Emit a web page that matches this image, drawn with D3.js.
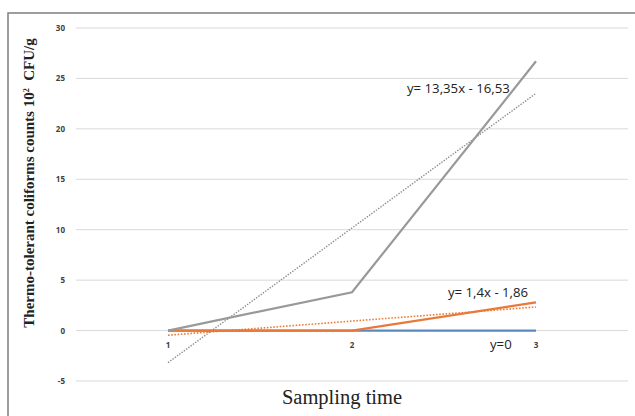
<!DOCTYPE html>
<html>
<head>
<meta charset="utf-8">
<script src="https://cdn.jsdelivr.net/npm/d3@7"></script>
<style>
  body { margin: 0; background: #fff; }
  svg { display: block; }
</style>
</head>
<body>
<svg id="chart" width="635" height="416"></svg>
<script>
// sampling times (categories)
const categories = ["1", "2", "3"];
// series values (10^2 CFU/g)
const blueValues = [0, 0, 0];
const orangeValues = [0, 0, 2.8];
const grayValues = [0, 3.8, 26.7];
// y tick values
const yTicks = [-5, 0, 5, 10, 15, 20, 25, 30];
// trend line equations (slope, intercept) and their labels
const grayTrend = [13.35, -16.53];
const orangeTrend = [1.4, -1.86];
const trendLabels = ["y= 13,35x - 16,53", "y= 1,4x - 1,86", "y=0"];

const svg = d3.select('#chart');

// outer frame (right and bottom edges cropped in the picture)
svg.append("rect")
	.attr("x", 8).attr("y", 13)
	.attr("width", 640).attr("height", 420)
	.attr("fill", "none")
	.attr("stroke", "#7f7f7f")
	.attr("stroke-width", 1.5);

const left = 76, right = 628;
const x = d3.scaleBand().domain(categories).range([left, right]);
const y = d3.scaleLinear().domain([-5, 30]).range([381, 28]);
const cx = c => x(c) + x.bandwidth() / 2;

// grid lines
yTicks.forEach(t =>
	svg.append("line")
		.attr("x1", left).attr("x2", right)
		.attr("y1", y(t)).attr("y2", y(t))
		.attr("stroke", "#d9d9d9")
		.attr("stroke-width", 1)
);

// y tick labels
yTicks.forEach(t =>
	svg.append("text")
		.attr("x", 65)
		.attr("y", y(t) + 3)
		.attr("text-anchor", "end")
		.attr("font-family", "Open Sans, sans-serif")
		.attr("font-size", 8)
		.attr("font-weight", "bold")
		.attr("fill", "#404040")
		.text(t.toString())
);

// x tick labels
categories.forEach(c =>
	svg.append("text")
		.attr("x", cx(c))
		.attr("y", 348)
		.attr("text-anchor", "middle")
		.attr("font-family", "Open Sans, sans-serif")
		.attr("font-size", 8)
		.attr("font-weight", "bold")
		.attr("fill", "#404040")
		.text(c)
);

const line = d3.line().x((d, i) => cx(categories[i])).y(d => y(d));

//draw trend lines (dotted)
function trendValues(tr) {
	return categories.map(c => tr[0] * (+c) + tr[1]);
}
svg.append("path")
	.datum(trendValues(orangeTrend))
	.attr("d", line)
	.attr("fill", "none")
	.attr("stroke", "#ed7d31")
	.attr("stroke-width", 1.6)
	.attr("stroke-dasharray", "1.6,1.6");
svg.append("path")
	.datum(trendValues(grayTrend))
	.attr("d", line)
	.attr("fill", "none")
	.attr("stroke", "#8c8c8c")
	.attr("stroke-width", 1.4)
	.attr("stroke-dasharray", "1.4,1.4");

// series lines
const series = [
	{values: blueValues, color: "#5b89bd"},
	{values: orangeValues, color: "#e8793a"},
	{values: grayValues, color: "#999999"}
];
series.forEach(s =>
	svg.append("path")
		.datum(s.values)
		.attr("d", line)
		.attr("fill", "none")
		.attr("stroke", s.color)
		.attr("stroke-width", 2.2)
);

// equation labels
const labelPos = [[407, 93], [448, 297], [490, 349]];
trendLabels.forEach((t, i) =>
	svg.append("text")
		.attr("x", labelPos[i][0])
		.attr("y", labelPos[i][1])
		.attr("font-family", "Open Sans, sans-serif")
		.attr("font-size", 13.2)
		.attr("fill", "#222")
		.text(t)
);

// axis titles
svg.append("text")
	.attr("transform", "translate(34,183) rotate(-90)")
	.attr("text-anchor", "middle")
	.attr("font-family", "Liberation Serif, serif")
	.attr("font-size", 15)
	.attr("font-weight", "bold")
	.attr("fill", "#222")
	.html('Thermo-tolerant coliforms counts 10<tspan dy="-5" font-size="8">2</tspan><tspan dy="5" xml:space="preserve">  CFU/g</tspan>');

svg.append("text")
	.attr("x", 342)
	.attr("y", 404)
	.attr("text-anchor", "middle")
	.attr("font-family", "Liberation Serif, serif")
	.attr("font-size", 20.5)
	.attr("fill", "#222")
	.text("Sampling time");
</script>
</body>
</html>
